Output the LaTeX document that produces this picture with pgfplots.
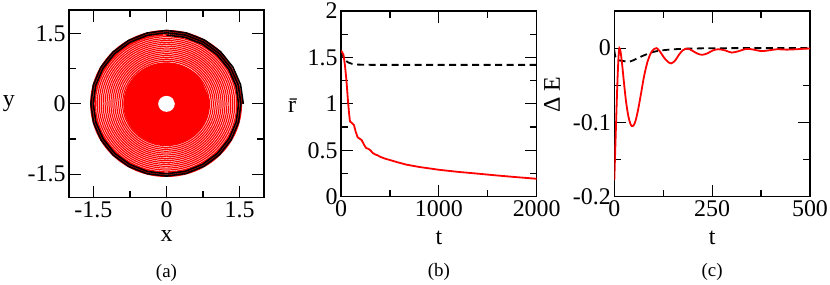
\documentclass[border=0pt]{standalone}
\usepackage{fontspec}
\setmainfont{Liberation Serif}
\newfontfamily\tms{Liberation Serif}
\usepackage{pgfplots}
\pgfplotsset{compat=1.18}
\usepgfplotslibrary{polar}
\pgfplotsset{panel/.style={
  scale only axis, anchor=south west,
  clip mode=individual,
  axis line style={line width=1.2bp},
  tick style={black, line width=1.2bp},
  major tick length=12bp, minor tick length=7bp,
  tick align=inside,
  tick label style={font=\tms\fontsize{24}{28}\selectfont},
  label style={font=\tms\fontsize{24}{28}\selectfont, anchor=center},
}}
\begin{document}
\begin{tikzpicture}
\path[use as bounding box] (0,0) rectangle (830bp,285bp);
% ---------------- (a)
\begin{axis}[panel, at={(69bp,87.3bp)}, width=195bp, height=187.7bp,
  xmin=-2, xmax=2, ymin=-2, ymax=2,
  xtick={-1.5,0,1.5}, xticklabels={-1.5,0,1.5}, minor xtick={-0.75,0.75},
  ytick={-1.5,0,1.5}, yticklabels={-1.5,0,1.5}, minor ytick={-0.75,0.75},
  xlabel={x}, ylabel={y},
  xlabel style={at={(axis description cs:0.5,-0.2025)}},
  ylabel style={rotate=-90, at={(axis description cs:-0.308,0.502)}},
]
\addplot[draw=red, fill=red, line width=0.9bp, smooth, tension=0.68, data cs=polar] coordinates {
(0,0.875)(45,0.875)(90,0.875)(135,0.875)(180,0.875)(225,0.875)(270,0.875)(315,0.875)(0,0.875)(45,0.875)};
\addplot[draw=none, fill=white, smooth, tension=0.68, data cs=polar] coordinates {
(0,0.17)(45,0.17)(90,0.17)(135,0.17)(180,0.17)(225,0.17)(270,0.17)(315,0.17)(0,0.17)(45,0.17)};
\addplot[red, line width=1.2bp, smooth, tension=0.68, data cs=polar] coordinates {
(0,1.570)(45,1.566)(90,1.562)(135,1.558)(180,1.554)(225,1.550)(270,1.546)(315,1.542)
(0,1.538)(45,1.534)(90,1.530)(135,1.526)(180,1.522)(225,1.518)(270,1.514)(315,1.510)
(0,1.506)(45,1.502)(90,1.498)(135,1.494)(180,1.490)(225,1.486)(270,1.482)(315,1.478)
(0,1.474)(45,1.470)(90,1.466)(135,1.462)(180,1.458)(225,1.454)(270,1.450)(315,1.445)
(0,1.440)(45,1.435)(90,1.430)(135,1.425)(180,1.420)(225,1.415)(270,1.410)(315,1.405)
(0,1.400)(45,1.395)(90,1.390)(135,1.385)(180,1.380)(225,1.375)(270,1.370)(315,1.365)
(0,1.360)(45,1.355)(90,1.350)(135,1.345)(180,1.340)(225,1.335)(270,1.330)(315,1.325)
(0,1.320)(45,1.315)(90,1.310)(135,1.305)(180,1.300)(225,1.295)(270,1.290)(315,1.285)
(0,1.280)(45,1.275)(90,1.270)(135,1.265)(180,1.260)(225,1.255)(270,1.250)(315,1.245)
(0,1.240)(45,1.235)(90,1.230)(135,1.225)(180,1.220)(225,1.215)(270,1.210)(315,1.205)
(0,1.200)(45,1.195)(90,1.190)(135,1.185)(180,1.180)(225,1.175)(270,1.170)(315,1.165)
(0,1.160)(45,1.155)(90,1.150)(135,1.145)(180,1.140)(225,1.135)(270,1.130)(315,1.125)
(0,1.120)(45,1.115)(90,1.110)(135,1.105)(180,1.100)(225,1.095)(270,1.090)(315,1.085)
(0,1.080)(45,1.075)(90,1.070)(135,1.065)(180,1.060)(225,1.055)(270,1.050)(315,1.045)
(0,1.040)(45,1.035)(90,1.030)(135,1.025)(180,1.020)(225,1.015)(270,1.010)(315,1.005)
(0,1.000)(45,0.995)(90,0.990)(135,0.985)(180,0.980)(225,0.975)(270,0.970)(315,0.965)
(0,0.960)(45,0.955)(90,0.950)(135,0.945)(180,0.940)(225,0.935)(270,0.930)(315,0.925)
(0,0.920)(45,0.915)(90,0.910)(135,0.905)(180,0.900)(225,0.895)(270,0.890)(315,0.885)
(0,0.880)(45,0.875)(90,0.870)};
\addplot[black, line width=1.6bp, line join=round, data cs=polar] coordinates {
(0,1.575)(15,1.573)(30,1.571)(45,1.569)(60,1.567)(75,1.565)(90,1.563)(105,1.561)
(120,1.559)(135,1.557)(150,1.555)(165,1.553)(180,1.551)(195,1.549)(210,1.547)(225,1.545)
(240,1.543)(255,1.541)(270,1.539)(285,1.537)(300,1.535)(315,1.533)(330,1.531)(345,1.529)
(0,1.527)(15,1.525)(30,1.523)(45,1.521)(60,1.519)(75,1.517)(90,1.515)(105,1.513)
(120,1.511)(135,1.509)(150,1.507)(165,1.505)(180,1.503)(195,1.501)(210,1.499)(225,1.497)
(240,1.495)(255,1.493)(270,1.491)(285,1.489)(300,1.487)(315,1.485)(330,1.483)(345,1.481)
(0,1.479)(15,1.477)(30,1.475)(45,1.473)(60,1.471)(75,1.469)(90,1.467)};
\node[font=\tms\fontsize{19}{22}\selectfont] at (axis description cs:0.5,-0.3985) {(a)};
\end{axis}
% ---------------- (b)
\begin{axis}[panel, at={(341bp,88.3bp)}, width=195.7bp, height=185.7bp,
  xmin=0, xmax=2000, ymin=0, ymax=2,
  xtick={0,1000,2000}, xticklabels={0,1000,2000}, minor xtick={500,1500},
  ytick={0,0.5,1,1.5,2}, yticklabels={0,0.5,1,1.5,2}, minor ytick={0.25,0.75,1.25,1.75},
  xlabel={t}, ylabel={\=r},
  xlabel style={at={(axis description cs:0.5,-0.22)}},
  ylabel style={rotate=-90, at={(axis description cs:-0.25,0.49)}},
]
\addplot[black, line width=1.8bp, dash pattern=on 7bp off 4.5bp] coordinates {
(0,1.57)(15,1.53)(30,1.495)(50,1.465)(75,1.445)(110,1.432)(160,1.423)(300,1.42)(2000,1.42)};
\addplot[red, line width=1.8bp] coordinates {
(0,1.57)(10,1.56)(25,1.53)(40,1.42)(55,1.26)(70,1.05)(82,0.90)(92,0.81)(105,0.80)(120,0.785)
(133,0.77)(150,0.70)(170,0.64)(190,0.625)(211,0.61)(235,0.56)(256,0.525)(280,0.515)(300,0.50)
(325,0.47)(350,0.455)(375,0.445)(400,0.43)(450,0.41)(500,0.395)(580,0.37)(670,0.345)(800,0.32)
(1000,0.29)(1200,0.267)(1400,0.248)(1600,0.228)(1800,0.21)(2000,0.193)};
\node[font=\tms\fontsize{19}{22}\selectfont] at (axis description cs:0.5,-0.405) {(b)};
\end{axis}
% ---------------- (c)
\begin{axis}[panel, at={(614.3bp,88.3bp)}, width=195.7bp, height=185.7bp,
  xmin=0, xmax=500, ymin=-0.2, ymax=0.05,
  xtick={0,250,500}, xticklabels={0,250,500}, minor xtick={125,375},
  ytick={-0.2,-0.1,0}, yticklabels={-0.2,-0.1,0}, minor ytick={-0.15,-0.05},
  xlabel={t}, ylabel={Δ E},
  xlabel style={at={(axis description cs:0.5,-0.22)}},
  ylabel style={at={(axis description cs:-0.318,0.548)}},
]
\addplot[black, line width=1.8bp, dash pattern=on 7bp off 4.5bp, smooth] coordinates {
(0,-0.003)(3,-0.012)(8,-0.016)(20,-0.017)(40,-0.018)(70,-0.011)(100,-0.005)(140,-0.002)
(200,-0.0005)(300,0)(500,0)};
\addplot[red, line width=1.8bp, smooth] coordinates {
(0,-0.178)(4,-0.11)(8,-0.045)(11,-0.01)(13,0)(16,-0.005)(20,-0.022)(25,-0.048)(30,-0.072)
(36,-0.092)(42,-0.103)(47,-0.105)(53,-0.1)(60,-0.085)(68,-0.062)(76,-0.038)(85,-0.018)
(94,-0.006)(102,-0.001)(108,0)(116,-0.004)(126,-0.012)(136,-0.018)(145,-0.0205)(155,-0.017)
(165,-0.009)(175,-0.003)(186,-0.0005)(198,-0.003)(211,-0.007)(224,-0.009)(238,-0.007)
(252,-0.003)(266,-0.0015)(283,-0.003)(300,-0.006)(318,-0.004)(338,-0.001)(356,-0.002)
(375,-0.004)(395,-0.003)(415,-0.0015)(440,-0.002)(465,-0.0015)(485,-0.0008)(500,-0.0005)};
\node[font=\tms\fontsize{19}{22}\selectfont] at (axis description cs:0.5,-0.405) {(c)};
\end{axis}
\end{tikzpicture}
\end{document}
